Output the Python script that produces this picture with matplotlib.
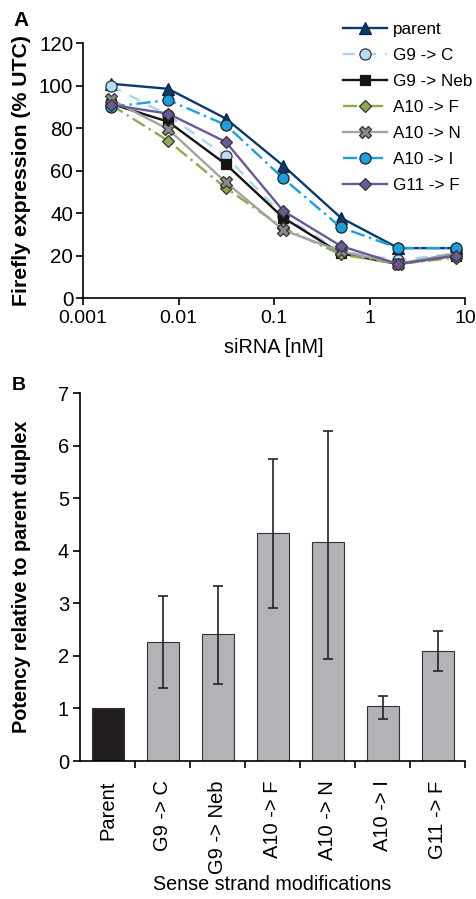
import matplotlib

matplotlib.use("Agg")
import matplotlib.pyplot as plt
import numpy as np

plt.rcParams["font.family"] = ["Liberation Sans", "DejaVu Sans"]

# panel A: dose response
conc_nm = [0.00195, 0.0078, 0.03125, 0.125, 0.5, 2, 8]
series_names = ["parent", "G9 -> C", "G9 -> Neb", "A10 -> F", "A10 -> N", "A10 -> I", "G11 -> F"]
expr_parent = [100.9, 98.5, 84.5, 62.3, 37.8, 23.5, 23.5]
expr_g9_c = [100.0, 86.0, 66.8, 38.5, 22.0, 17.8, 21.0]
expr_g9_neb = [91.5, 83.0, 63.0, 37.8, 21.0, 16.0, 20.0]
expr_a10_f = [91.0, 74.0, 51.8, 33.0, 20.5, 16.0, 19.0]
expr_a10_n = [93.5, 79.5, 54.5, 32.0, 22.0, 16.2, 21.0]
expr_a10_i = [90.0, 93.2, 81.5, 56.3, 33.3, 23.5, 23.5]
expr_g11_f = [91.0, 86.8, 73.5, 41.0, 24.5, 16.0, 20.0]

# panel B: relative potency
mod_labels = ["Parent", "G9 -> C", "G9 -> Neb", "A10 -> F", "A10 -> N", "A10 -> I", "G11 -> F"]
potency = [1.0, 2.27, 2.41, 4.34, 4.17, 1.04, 2.09]
err_low = [1.0, 1.39, 1.46, 2.91, 1.95, 0.80, 1.71]
err_high = [1.0, 3.13, 3.33, 5.75, 6.27, 1.24, 2.48]

styles = [
    dict(color="#0b3a6e", ls="-", marker="^", mfc="#0b3a6e", mec="#0a2544"),
    dict(color="#a9d5f0", ls=(0, (5, 4)), marker="o", mfc="#b5ddf5", mec="#333333"),
    dict(color="#151515", ls="-", marker="s", mfc="#151515", mec="#151515"),
    dict(color="#8aac4c", ls=(0, (6, 2, 1, 2)), marker="D", mfc="#8aac4c", mec="#333333"),
    dict(color="#a3a3a3", ls="-", marker="X", mfc="#8a8a8a", mec="#333333"),
    dict(color="#1aa0dc", ls=(0, (6, 2, 1, 2)), marker="o", mfc="#1aa0dc", mec="#222222"),
    dict(color="#6a5897", ls="-", marker="D", mfc="#6a5897", mec="#333333"),
]
series_values = [expr_parent, expr_g9_c, expr_g9_neb, expr_a10_f, expr_a10_n, expr_a10_i, expr_g11_f]
marker_sizes = [8, 8, 7, 6, 8, 8, 6]

fig = plt.figure(figsize=(4.77, 8.99), dpi=100)

ax1 = fig.add_axes([0.174, 0.6685, 0.801, 0.2835])
for name, vals, st, ms in zip(series_names, series_values, styles, marker_sizes):
    ax1.plot(
        conc_nm, vals, color=st["color"], linestyle=st["ls"], linewidth=1.7,
        marker=st["marker"], markersize=ms, markerfacecolor=st["mfc"],
        markeredgecolor=st["mec"], markeredgewidth=0.9, label=name,
    )
ax1.set_xscale("log")
ax1.set_xlim(0.001, 10)
ax1.set_ylim(0, 120)
ax1.set_yticks(np.arange(0, 121, 20))
ax1.set_xticks([0.001, 0.01, 0.1, 1, 10])
ax1.set_xticklabels(["0.001", "0.01", "0.1", "1", "10"])
ax1.minorticks_off()
ax1.set_xlabel("siRNA [nM]", fontsize=14.3, labelpad=8)
ax1.set_ylabel("Firefly expression (% UTC)", fontsize=15.3, fontweight="bold")
ax1.yaxis.set_label_coords(-0.137, 0.5)
ax1.legend(
    loc="upper left", bbox_to_anchor=(343 / 477, 1 - 22 / 899), bbox_transform=fig.transFigure,
    frameon=False, fontsize=12.3, handlelength=2.55, labelspacing=0.64, borderpad=0,
    borderaxespad=0, handletextpad=0.4,
)
fig.text(13 / 477, 1 - 20 / 899, "A", fontsize=15, fontweight="bold", va="center")

ax2 = fig.add_axes([0.168, 0.1535, 0.807, 0.4093])
x = np.arange(len(mod_labels))
bar_colors = ["#231f20"] + ["#b1b3b6"] * (len(mod_labels) - 1)
yerr = np.array([
    [p - lo for p, lo in zip(potency, err_low)],
    [hi - p for p, hi in zip(potency, err_high)],
])
show_err = [i for i in range(len(mod_labels)) if i > 0]
ax2.bar(x, potency, width=0.58, color=bar_colors, edgecolor="#333333", linewidth=0.8)
ax2.errorbar(
    x[show_err], np.array(potency)[show_err], yerr=yerr[:, show_err], fmt="none",
    ecolor="#222222", elinewidth=1.2, capsize=3.6, capthick=1.2,
)
ax2.set_xlim(-0.5, len(mod_labels) - 0.5)
ax2.set_ylim(0, 7)
ax2.set_yticks(range(0, 8))
ax2.set_xticks(x + 0.5, minor=False)
ax2.set_xticklabels([])
ax2.set_xticks(x, minor=True)
ax2.set_xticklabels(mod_labels, minor=True, rotation=90)
ax2.tick_params(axis="x", which="minor", length=0, pad=14, labelsize=14.5)
ax2.set_xlabel("Sense strand modifications", fontsize=14.2, va="top")
ax2.xaxis.set_label_coords(0.5, -0.31)
ax2.set_ylabel("Potency relative to parent duplex", fontsize=14.3, fontweight="bold")
ax2.yaxis.set_label_coords(-0.128, 0.5)
fig.text(12 / 477, 1 - 386 / 899, "B", fontsize=14, fontweight="bold", va="center")

for ax in (ax1, ax2):
    ax.spines["top"].set_visible(False)
    ax.spines["right"].set_visible(False)
    ax.spines["left"].set_linewidth(1.2)
    ax.spines["bottom"].set_linewidth(1.2)
    ax.tick_params(axis="both", which="major", direction="out", length=5, width=1.2,
                   labelsize=14)
ax1.tick_params(axis="y", pad=2, labelsize=14.8)
ax2.tick_params(axis="y", pad=3, labelsize=14.5)

fig.savefig("out.png", dpi=100)
